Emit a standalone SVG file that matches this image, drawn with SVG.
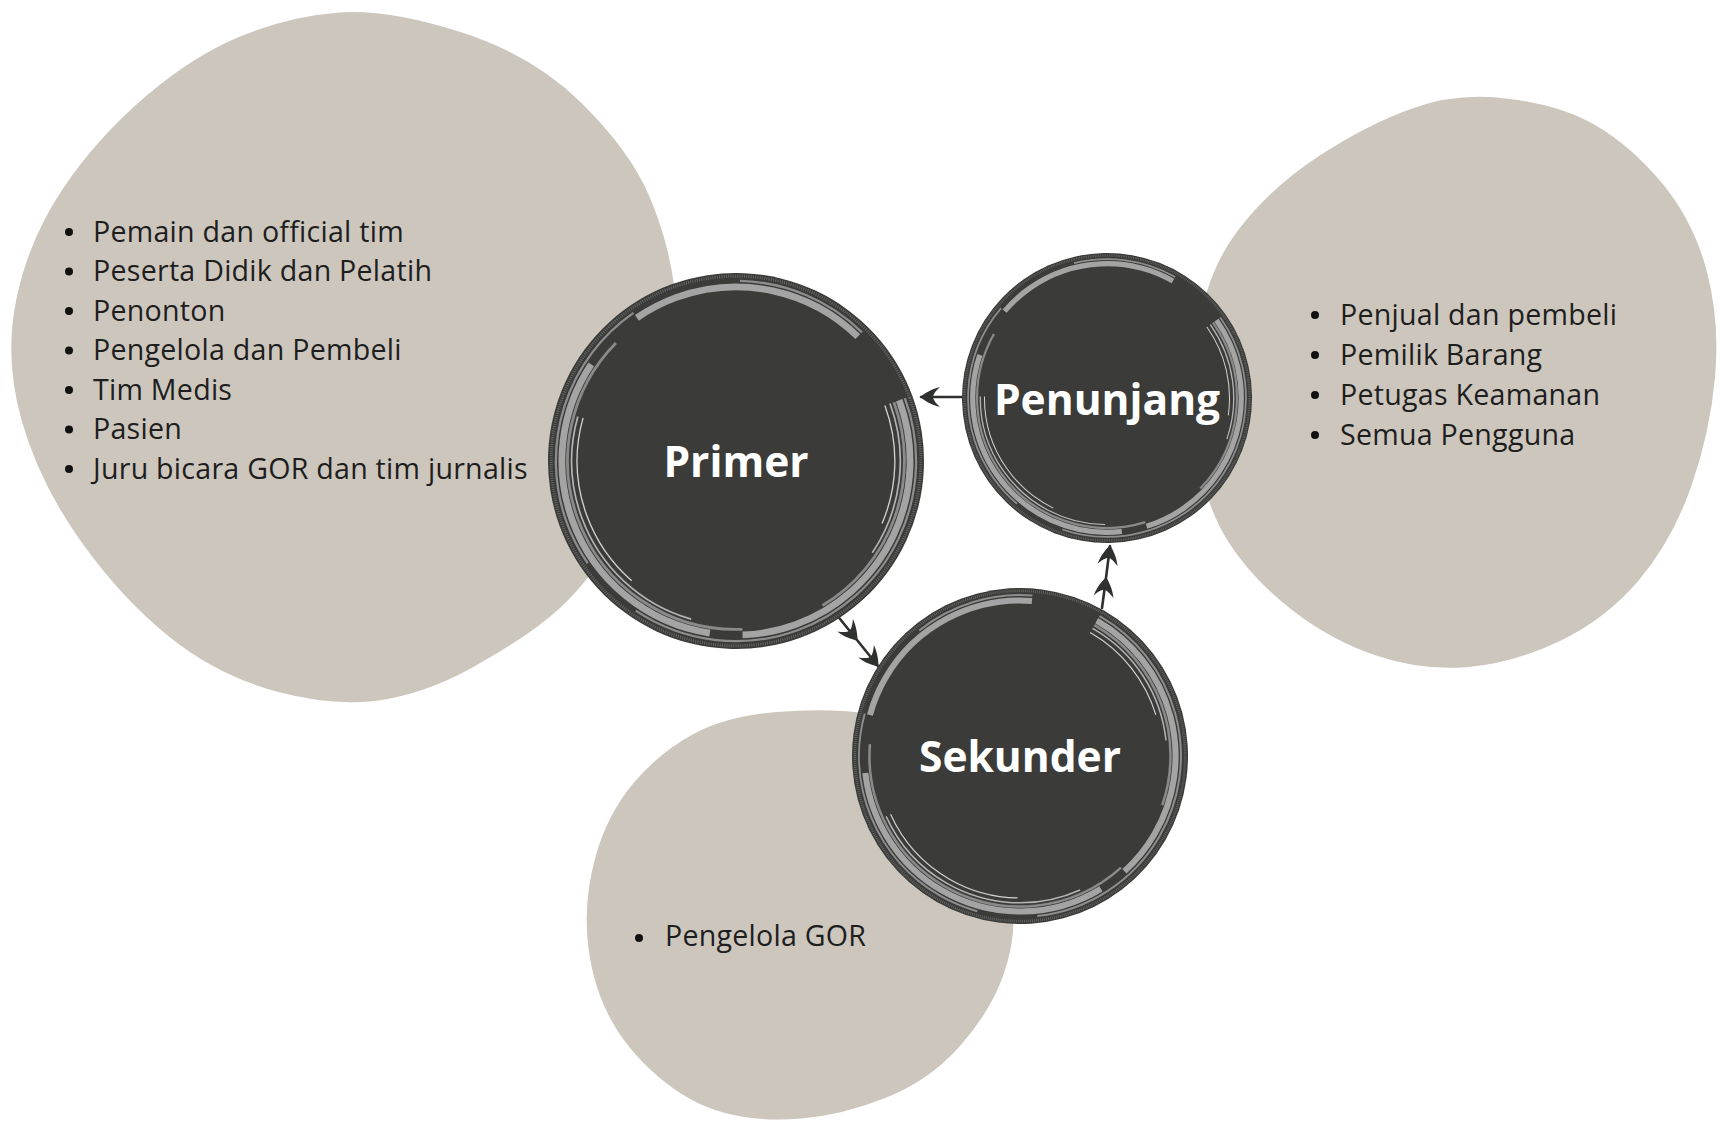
<svg xmlns="http://www.w3.org/2000/svg" width="1720" height="1122" viewBox="0 0 1720 1122">
<style>
.blob{fill:#ccc6bd}
.item{font-family:"Open Sans","Liberation Sans",sans-serif;font-size:28.6px;letter-spacing:0.25px;fill:#1e1e1e}
.dot{fill:#111}
.label{font-family:"Open Sans","Liberation Sans",sans-serif;font-weight:700;font-size:42.5px;fill:#ffffff;text-anchor:middle}
.conn{fill:none;stroke:#2f312e;stroke-width:2.6;stroke-linecap:round}
.r0{fill:#3b3c3a}
.r1{fill:none;stroke:#676866;stroke-width:1.6;stroke-dasharray:0.5 0.7}
.r2{fill:none;stroke:#8d8d8d;stroke-width:1.2}
.r3{fill:none;stroke:#a4a4a4;stroke-width:3.6}
.r4{fill:none;stroke:#8a8a8a;stroke-width:1.5}
.r5{fill:none;stroke:#b3b3b3;stroke-width:0.9}
.r6{fill:none;stroke:#d2d2d2;stroke-width:0.7}
</style>
<defs>
<marker id="leaf" markerUnits="userSpaceOnUse" viewBox="-20 -11 22 22" refX="0" refY="0" markerWidth="22" markerHeight="22" orient="auto">
<path d="M1,0 C-3,-3 -10,-8 -19,-10 C-14,-5.5 -12,-2 -12,0 C-12,2 -14,5.5 -19,10 C-10,8 -3,3 1,0 Z" fill="#2f312e"/>
</marker>
<g id="emblem">
<circle class="r0" r="100"/>
<circle class="r1" r="98.3"/>
<circle class="r2" r="95.8" pathLength="100" stroke-dasharray="40 6 25 10 12 7"/>
<circle class="r3" r="92.6" pathLength="100" stroke-dasharray="30 3 32 6 22 7"/>
<circle class="r4" r="89.6" pathLength="100" stroke-dasharray="22 8 38 32"/>
<circle class="r5" r="87.4" pathLength="100" stroke-dasharray="15 20 25 40"/>
<circle class="r6" r="84.5" pathLength="100" stroke-dasharray="12 30 18 40"/>
</g>
</defs>

<g id="backgrounds">
<path class="blob" d="M339.5,12.5 Q388,9 460.5,32 Q533,55 581.5,103 Q630,151 649,195.5 Q668,240 674,285 Q680,330 660,415 Q640,500 613.5,541.5 Q587,583 560,608 Q533,633 484.5,660.5 Q436,690 387.5,699 Q339,708 278.5,692 Q218,676 169.5,637 Q121,598 80,540 Q39,482 21.5,420 Q4,358 16.5,298.5 Q29,239 63,188.5 Q97,138 145.5,96.5 Q194,55 242.5,35.5 Q291,16 339.5,12.5 Z"/>
<path class="blob" d="M1509.5,99 Q1560,105 1595,125 Q1630,145 1662,183 Q1694,222 1707,272 Q1720,322 1715,377.5 Q1710,433 1691,487 Q1672,541 1639,580 Q1606,619 1560,641 Q1514,663 1468.5,667 Q1423,671 1377.5,656 Q1332,641 1292,610 Q1252,579 1228.5,542 Q1205,505 1197.5,452.5 Q1190,400 1197.5,337 Q1205,274 1237.5,231 Q1270,188 1319,156 Q1368,124 1413.5,108 Q1459,92 1509.5,99 Z"/>
<path class="blob" d="M863.5,713 Q900,718 930,749 Q960,780 985,825 Q1010,870 1013,905 Q1016,940 1003,976 Q990,1012 960,1046 Q930,1080 886.5,1097.5 Q843,1115 801.5,1118.5 Q760,1122 725,1113 Q690,1104 657.5,1076 Q625,1048 608,1014 Q591,980 587.5,938.5 Q584,897 596,855 Q608,813 634,782.5 Q660,752 693.5,734 Q727,716 777,712 Q827,708 863.5,713 Z"/>
</g>

<g id="list-primer">
<circle class="dot" cx="69" cy="232" r="4"/><text class="item" x="93" y="241.5">Pemain dan official tim</text>
<circle class="dot" cx="69" cy="271.5" r="4"/><text class="item" x="93" y="281">Peserta Didik dan Pelatih</text>
<circle class="dot" cx="69" cy="311" r="4"/><text class="item" x="93" y="320.5">Penonton</text>
<circle class="dot" cx="69" cy="350.5" r="4"/><text class="item" x="93" y="360">Pengelola dan Pembeli</text>
<circle class="dot" cx="69" cy="390" r="4"/><text class="item" x="93" y="399.5">Tim Medis</text>
<circle class="dot" cx="69" cy="429.5" r="4"/><text class="item" x="93" y="439">Pasien</text>
<circle class="dot" cx="69" cy="469" r="4"/><text class="item" x="93" y="478.5">Juru bicara GOR dan tim jurnalis</text>
</g>

<g id="list-penunjang">
<circle class="dot" cx="1315" cy="315" r="4"/><text class="item" x="1340" y="324.5">Penjual dan pembeli</text>
<circle class="dot" cx="1315" cy="355" r="4"/><text class="item" x="1340" y="364.5">Pemilik Barang</text>
<circle class="dot" cx="1315" cy="395" r="4"/><text class="item" x="1340" y="404.5">Petugas Keamanan</text>
<circle class="dot" cx="1315" cy="435" r="4"/><text class="item" x="1340" y="444.5">Semua Pengguna</text>
</g>

<g id="list-sekunder">
<circle class="dot" cx="639" cy="938" r="4"/><text class="item" x="665" y="946">Pengelola GOR</text>
</g>

<g id="connectors">
<path class="conn" d="M962,397 L942,397 L921,397" marker-end="url(#leaf)"/>
<path class="conn" d="M836,614 L857,640 L878,666" marker-mid="url(#leaf)" marker-end="url(#leaf)"/>
<path class="conn" d="M1102,608 L1106,578 L1110,546" marker-mid="url(#leaf)" marker-end="url(#leaf)"/>
</g>

<g id="node-primer">
<use href="#emblem" transform="translate(736 461) scale(1.88) rotate(-20)"/>
<text class="label" x="736" y="477">Primer</text>
</g>

<g id="node-penunjang">
<use href="#emblem" transform="translate(1107 398) scale(1.45) rotate(-35)"/>
<text class="label" x="1107" y="415">Penunjang</text>
</g>

<g id="node-sekunder">
<use href="#emblem" transform="translate(1020 756) scale(1.68) rotate(-60)"/>
<text class="label" x="1020" y="772">Sekunder</text>
</g>
</svg>
